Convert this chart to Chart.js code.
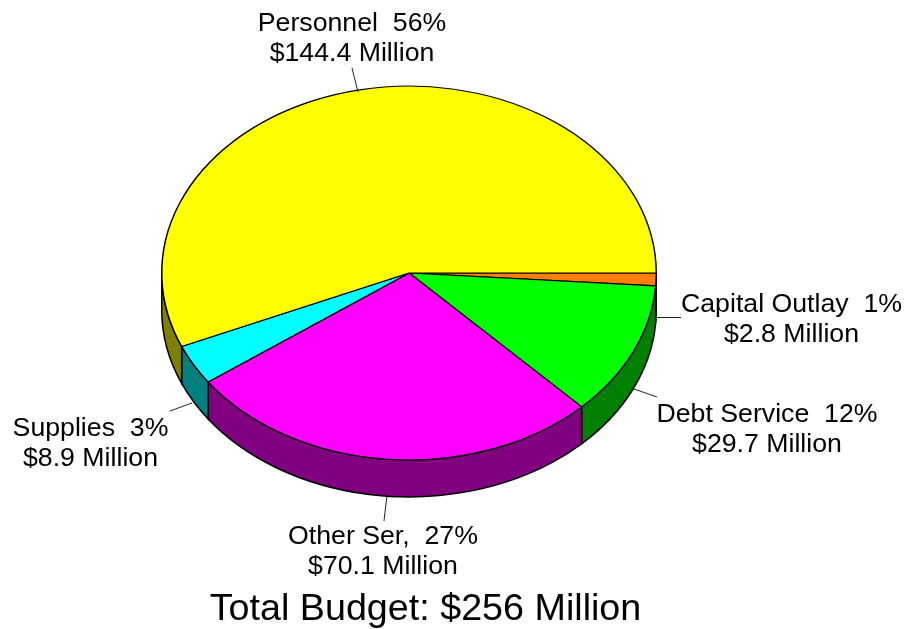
<!DOCTYPE html>
<html>
<head>
<meta charset="utf-8">
<title>Budget pie</title>
<script src="https://cdn.jsdelivr.net/npm/chart.js@4"></script>
<style>
    html, body { margin: 0; padding: 0; background: #fff; }
    #wrap { width: 906px; height: 629px; position: relative; }
</style>
</head>
<body>
<div id="wrap"><canvas id="budgetChart"></canvas></div>
<script>
// Data, clockwise from 3 o'clock
const categories = ['Capital Outlay', 'Debt Service', 'Other Ser,', 'Supplies', 'Personnel'];
const percents = ['1%', '12%', '27%', '3%', '56%'];
const amounts = [2.8, 29.7, 70.1, 8.9, 144.4];
const topColors = ['#ff8000', '#00ff00', '#ff00ff', '#00ffff', '#ffff00'];
const wallColors = ['#804000', '#008000', '#800080', '#008080', '#808000'];
const totalLabel = 'Total Budget: $256 Million';

// Label placement: text centre x, first baseline y, leader line from/to
const labelSpots = [
    { x: 791.5, y: 312, line: [656, 317.5, 681, 317.5] },
    { x: 767, y: 422, line: [634, 389, 657, 397] },
    { x: 383, y: 544, line: [387, 495, 384, 521] },
    { x: 90.5, y: 436, line: [192, 403, 170, 411] },
    { x: 352, y: 31, line: [358, 92, 352, 68] }
];

const SQUASH = 0.756;  // vertical squash of the round pie into an ellipse
const DEPTH = 37;      // height of the side wall
const EDGE = 1.5;      // outline width

// Side wall, drawn below the squashed top
function drawWalls(chart, cx, cy) {
    const ctx = chart.ctx;
    const arcs = chart.getDatasetMeta(0).data;
    const r = arcs[0].outerRadius;
    const ry = r * SQUASH;
    arcs.forEach((arc, i) => {
        // only the front half (screen angles 0..PI) shows a wall
        const parts = [
            [Math.max(arc.startAngle, 0), Math.min(arc.endAngle, Math.PI)],
            [Math.max(arc.startAngle, 2 * Math.PI), Math.min(arc.endAngle, 3 * Math.PI)]
        ];
        parts.forEach(p => {
            if (p[1] <= p[0]) return;
            ctx.beginPath();
            ctx.ellipse(cx, cy, r, ry, 0, p[0], p[1]);
            ctx.ellipse(cx, cy + DEPTH, r, ry, 0, p[1], p[0], true);
            ctx.closePath();
            ctx.fillStyle = wallColors[i];
            ctx.fill();
            ctx.lineWidth = EDGE;
            ctx.strokeStyle = '#000';
            ctx.stroke();
        });
    });
}

const squashPlugin = {
    id: 'squash',
    beforeDatasetsDraw(chart) {
        const ctx = chart.ctx;
        const arc = chart.getDatasetMeta(0).data[0];
        drawWalls(chart, arc.x, arc.y);
        ctx.save();
        ctx.translate(arc.x, arc.y);
        ctx.scale(1, SQUASH);
        ctx.translate(-arc.x, -arc.y);
    },
    afterDatasetsDraw(chart) {
        chart.ctx.restore();
    }
};

const labelPlugin = {
    id: 'pieLabels',
    afterDraw(chart) {
        const ctx = chart.ctx;
        ctx.save();
        ctx.fillStyle = '#000';
        ctx.strokeStyle = '#222';
        ctx.lineWidth = 1;
        ctx.textAlign = 'center';
        ctx.textBaseline = 'alphabetic';
        ctx.font = '26.7px "Liberation Sans"';
        categories.forEach((name, i) => {
            const spot = labelSpots[i];
            ctx.fillText(name + '  ' + percents[i], spot.x, spot.y);
            ctx.fillText('$' + amounts[i].toFixed(1) + ' Million', spot.x, spot.y + 30);
            ctx.beginPath();
            ctx.moveTo(spot.line[0], spot.line[1]);
            ctx.lineTo(spot.line[2], spot.line[3]);
            ctx.stroke();
        });
        ctx.font = '37.7px "Liberation Sans"';
        ctx.fillText(totalLabel, 425.5, 620);
        ctx.restore();
    }
};

Chart.defaults.font.family = '"Liberation Sans"';

new Chart(document.getElementById('budgetChart'), {
    type: 'pie',
    data: {
        labels: categories,
        datasets: [{
            data: amounts,
            backgroundColor: topColors,
            borderColor: '#000',
            borderWidth: EDGE
        }]
    },
    options: {
        responsive: true,
        maintainAspectRatio: false,
        animation: false,
        rotation: 90,
        layout: { padding: { left: 161, right: 249, top: 25, bottom: 108 } },
        plugins: {
            legend: { display: false },
            tooltip: { enabled: false }
        }
    },
    plugins: [squashPlugin, labelPlugin]
});
</script>
</body>
</html>
